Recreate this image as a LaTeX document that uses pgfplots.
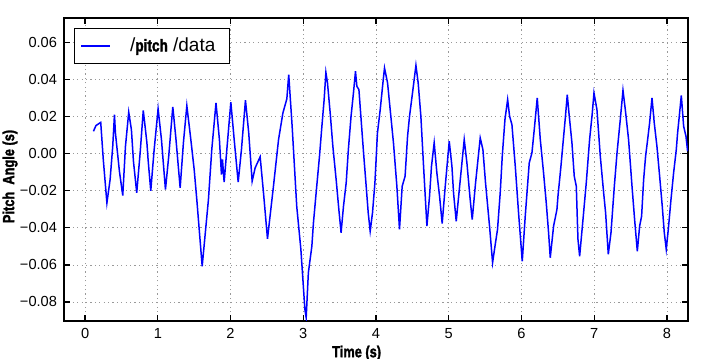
\documentclass[border=0pt]{standalone}
\usepackage{fontspec}
\setmainfont{Liberation Sans}
\newfontfamily\condfont[FakeStretch=0.8,BoldFeatures={FakeBold=1.8}]{Liberation Sans}
\usepackage{pgfplots}
\pgfplotsset{compat=1.18}
\begin{document}
\begin{tikzpicture}
\begin{axis}[
  scale only axis,
  width=312pt, height=151.5pt,
  xmin=-0.29, xmax=8.29,
  ymin=-0.0903, ymax=0.0734,
  xtick={0,1,2,3,4,5,6,7,8},
  ytick={-0.08,-0.06,-0.04,-0.02,0,0.02,0.04,0.06},
  yticklabels={−0.08,−0.06,−0.04,−0.02,0.00,0.02,0.04,0.06},
  scaled y ticks=false,
  tick align=inside,
  major tick length=3pt,
  tick style={black, line width=0.6pt},
  axis line style={line width=0.8pt},
  grid=major,
  major grid style={gray!80, line width=0.4pt, dash pattern=on 0.6pt off 1.6pt},
  ticklabel style={font=\fontsize{7.3}{8}\selectfont},
  /pgf/number format/assume math mode=true,
  xlabel={\condfont\bfseries Time (s)},
  xlabel style={at={(axis description cs:0.469,-0.106)}, anchor=center, font=\fontsize{8}{9}\selectfont},
  ylabel={\condfont\bfseries Pitch\ \ Angle (s)},
  ylabel style={at={(axis description cs:-0.0865,0.477)}, anchor=center, font=\fontsize{8}{9}\selectfont},
  legend style={at={(axis description cs:0,1)}, anchor=north west, xshift=5pt, yshift=-5pt,
    draw=black, line width=0.6pt, inner xsep=3pt, inner ysep=1.5pt,
    font=\fontsize{9.5}{11}\selectfont, nodes={inner xsep=4pt, inner ysep=3pt}},
  legend image code/.code={\draw[#1] (3pt,0pt) -- (17.5pt,0pt);},
]

% Pitch-Signal
\addplot[blue, line width=0.75pt] coordinates {
(0.115,0.0122) (0.15,0.0153) (0.215,0.017) (0.25,-0.003) (0.30,-0.0265)
(0.344,-0.0139) (0.38,0.004) (0.404,0.0212) (0.417,0.0113) (0.472,-0.0094)
(0.518,-0.0225) (0.555,0.004) (0.60,0.0225) (0.637,0.013) (0.665,-0.004)
(0.71,-0.021) (0.757,0.0005) (0.80,0.0235) (0.85,0.006) (0.866,-0.003)
(0.903,-0.020) (0.949,0.002) (1.004,0.0243) (1.05,0.0077) (1.105,-0.0193)
(1.15,-0.0013) (1.206,0.0254) (1.25,0.0077) (1.307,-0.0184) (1.352,0.006)
(1.399,0.026) (1.454,0.0077) (1.50,-0.0085) (1.536,-0.0247) (1.61,-0.0607)
(1.696,-0.0247) (1.742,0.0023) (1.80,0.0275) (1.847,0.0077) (1.875,-0.0112)
(1.889,-0.003) (1.912,-0.0153) (1.949,0.0023) (2.004,0.0279) (2.05,0.0077)
(2.105,-0.0153) (2.15,0.0023) (2.205,0.029) (2.25,0.0113) (2.297,-0.0148)
(2.338,-0.0076) (2.407,-0.0016) (2.453,-0.021) (2.508,-0.0459) (2.59,-0.0175)
(2.66,0.0077) (2.72,0.0221) (2.774,0.0297) (2.80,0.0428) (2.847,0.0149)
(2.91,-0.0283) (2.967,-0.0516) (3.022,-0.084) (3.04,-0.0885) (3.07,-0.0642)
(3.118,-0.0499) (3.14,-0.0372) (3.177,-0.021) (3.223,-0.0013) (3.256,0.0149)
(3.287,0.0293) (3.311,0.044) (3.333,0.0383) (3.37,0.0221) (3.407,0.004)
(3.452,-0.0139) (3.489,-0.030) (3.52,-0.0426) (3.553,-0.0283) (3.59,-0.0157)
(3.62,0.0023) (3.657,0.0203) (3.69,0.0329) (3.718,0.0446) (3.737,0.0365)
(3.765,0.0347) (3.792,0.0203) (3.829,0.0005) (3.865,-0.0175) (3.893,-0.0318)
(3.92,-0.0418) (3.952,-0.0318) (3.985,-0.0157) (4.02,0.0113) (4.058,0.0239)
(4.095,0.0383) (4.117,0.0464) (4.159,0.0383) (4.195,0.0239) (4.24,0.006)
(4.287,-0.0175) (4.323,-0.0408) (4.36,-0.0175) (4.40,-0.0121) (4.434,0.0095)
(4.461,0.0203) (4.502,0.0329) (4.549,0.0478) (4.58,0.0383) (4.617,0.0203)
(4.654,-0.0067) (4.70,-0.039) (4.736,-0.0229) (4.763,-0.0067) (4.80,0.006)
(4.837,-0.0103) (4.874,-0.0229) (4.91,-0.0376) (4.952,-0.0175) (5.007,0.0068)
(5.044,-0.0067) (5.066,-0.021) (5.103,-0.0364) (5.15,-0.0175) (5.213,0.0077)
(5.25,-0.0049) (5.295,-0.0247) (5.323,-0.0355) (5.369,-0.0157) (5.433,0.0086)
(5.47,0.0023) (5.506,-0.0157) (5.561,-0.039) (5.603,-0.0588) (5.636,-0.0499)
(5.671,-0.0408) (5.708,-0.021) (5.736,-0.0013) (5.773,0.0185) (5.81,0.0293)
(5.837,0.0203) (5.869,0.0158) (5.915,-0.0067) (5.96,-0.0318) (6.011,-0.058)
(6.052,-0.0337) (6.107,-0.0049) (6.144,0.0005) (6.176,0.0131) (6.217,0.0302)
(6.259,0.0077) (6.304,-0.0103) (6.341,-0.0265) (6.373,-0.0426) (6.396,-0.0561)
(6.442,-0.039) (6.488,-0.030) (6.502,-0.0229) (6.543,-0.0067) (6.58,0.0095)
(6.603,0.0194) (6.63,0.032) (6.653,0.0221) (6.694,0.006) (6.726,-0.0121)
(6.754,-0.0175) (6.777,-0.0462) (6.80,-0.0553) (6.846,-0.0355) (6.891,-0.0157)
(6.937,0.0077) (6.974,0.0221) (6.997,0.0329) (7.038,0.0239) (7.084,-0.0013)
(7.13,-0.021) (7.157,-0.0318) (7.194,-0.0543) (7.231,-0.0426) (7.277,-0.0175)
(7.314,0.0005) (7.359,0.0185) (7.396,0.0343) (7.428,0.0239) (7.473,0.0077)
(7.52,-0.0175) (7.556,-0.0355) (7.593,-0.0526) (7.625,-0.039) (7.652,-0.0337)
(7.68,-0.0139) (7.707,-0.0013) (7.735,0.0077) (7.762,0.0167) (7.795,0.0302)
(7.826,0.0167) (7.863,0.004) (7.90,-0.0121) (7.936,-0.0283) (7.964,-0.0426)
(7.991,-0.0516) (8.019,-0.0408) (8.056,-0.0247) (8.092,-0.0103) (8.129,0.0023)
(8.147,0.0113) (8.17,0.0203) (8.198,0.0316) (8.23,0.0149) (8.262,0.0095)
(8.285,0.0014)
};
\addlegendentry{\hspace{5.5pt}/{\condfont\bfseries\fontsize{8.5}{9}\selectfont pitch} /data}

\end{axis}
% Bildgroesse wie Vorlage
\pgfresetboundingbox
\path[use as bounding box] ([shift={(-32pt,-19pt)}]current axis.south west)
  rectangle ([shift={(8.5pt,9pt)}]current axis.north east);
\end{tikzpicture}
\end{document}
